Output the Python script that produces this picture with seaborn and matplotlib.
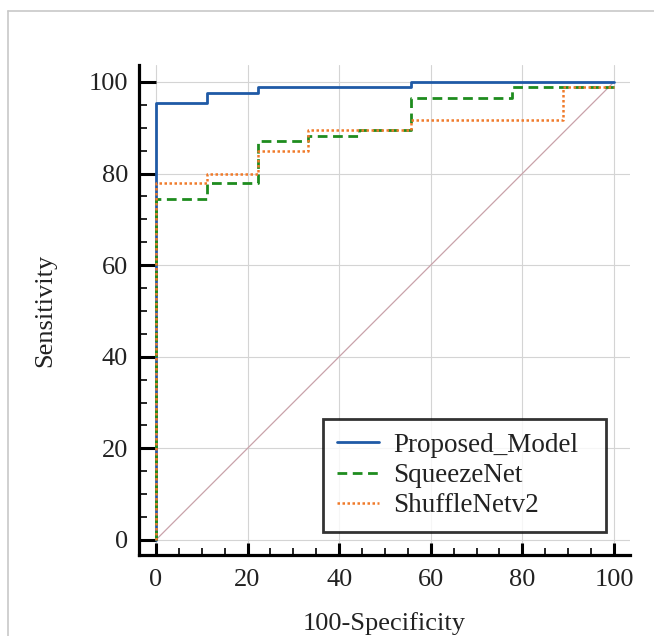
import matplotlib
matplotlib.use("Agg")
import matplotlib.pyplot as plt
from matplotlib.lines import Line2D
from matplotlib.ticker import MultipleLocator
import seaborn as sns
import pandas as pd

# ---- data ----
proposed_fpr = [0, 0, 11.1, 22.2, 55.6, 100]
proposed_tpr = [0, 95.3, 97.6, 98.8, 100, 100]

squeeze_fpr = [0, 0, 11.1, 22.2, 33.3, 44.4, 55.6, 77.8, 100]
squeeze_tpr = [0, 74.4, 77.9, 87.1, 88.3, 89.5, 96.4, 98.8, 98.8]

shuffle_fpr = [0, 0, 11.1, 22.2, 33.3, 55.6, 88.9, 100]
shuffle_tpr = [0, 77.9, 80.0, 85.0, 89.5, 91.7, 98.8, 98.8]

diag = [0, 100]

labels = ["Proposed_Model", "SqueezeNet", "ShuffleNetv2"]
ticks = [0, 20, 40, 60, 80, 100]

sns.set_theme(style="white")
plt.rcParams["font.family"] = ["Liberation Serif", "DejaVu Serif"]

fig = plt.figure(figsize=(6.54, 6.36), dpi=100)
ax = fig.add_axes([139 / 654, 1 - 555 / 636, (630 - 139) / 654, (555 - 65) / 636])

ax.grid(True, color="#d4d4d4", linewidth=0.8)
ax.set_axisbelow(True)

sns.lineplot(x=diag, y=diag, ax=ax, color="#c9a2aa", linewidth=0.9,
             estimator=None, sort=False, legend=False)

sns.lineplot(x=proposed_fpr, y=proposed_tpr, ax=ax, color="#1f5aa6",
             linewidth=2.0, drawstyle="steps-post", estimator=None, sort=False,
             label=labels[0])
sns.lineplot(x=squeeze_fpr, y=squeeze_tpr, ax=ax, color="#1e8c1e",
             linewidth=2.0, linestyle=(0, (3.5, 2)), drawstyle="steps-post",
             estimator=None, sort=False, label=labels[1])
sns.lineplot(x=shuffle_fpr, y=shuffle_tpr, ax=ax, color="#f07a2a",
             linewidth=1.8, linestyle=(0, (1, 1)), drawstyle="steps-post",
             estimator=None, sort=False, label=labels[2])

ax.set_xlim(-3.7, 103.5)
ax.set_ylim(-3.3, 103.7)
ax.set_xticks(ticks)
ax.set_yticks(ticks)
ax.xaxis.set_minor_locator(MultipleLocator(5))
ax.yaxis.set_minor_locator(MultipleLocator(5))

for s in ["top", "right"]:
    ax.spines[s].set_visible(False)
for s in ["left", "bottom"]:
    ax.spines[s].set_visible(True)
    ax.spines[s].set_color("black")
    ax.spines[s].set_linewidth(2.3)

ax.tick_params(axis="y", which="major", direction="in", length=12, width=2.2,
               color="black", labelsize=19, pad=8, left=True)
ax.tick_params(axis="y", which="minor", direction="in", length=6, width=1.2,
               color="black", left=True)
ax.tick_params(axis="x", which="major", direction="in", length=9, width=2.2,
               color="black", labelsize=19, pad=10, bottom=True)
ax.tick_params(axis="x", which="minor", direction="in", length=5, width=1.2,
               color="black", bottom=True)
for lab in ax.get_xticklabels() + ax.get_yticklabels():
    lab.set_color("#222222")

ax.set_xlabel("100-Specificity", fontsize=19, color="#222222", labelpad=15)
ax.set_ylabel("Sensitivity", fontsize=19, color="#222222", labelpad=23)

leg = ax.legend(loc="lower left", bbox_to_anchor=(0.375, 0.047, 0.576, 0.2),
                mode="expand", fontsize=19.5,
                frameon=True, fancybox=False, handlelength=1.55,
                borderpad=0.5, labelspacing=0.2, handletextpad=0.55,
                borderaxespad=0)
leg.get_frame().set_edgecolor("black")
leg.get_frame().set_linewidth(2.0)
for t in leg.get_texts():
    t.set_color("#222222")

# outer light frame of the reference image
fig.add_artist(Line2D([8 / 654, 1], [1 - 11 / 636, 1 - 11 / 636],
                      transform=fig.transFigure, color="#c8c8c8", linewidth=1.2))
fig.add_artist(Line2D([8 / 654, 8 / 654], [0, 1 - 11 / 636],
                      transform=fig.transFigure, color="#c8c8c8", linewidth=1.2))

fig.savefig("out.png", dpi=100)
